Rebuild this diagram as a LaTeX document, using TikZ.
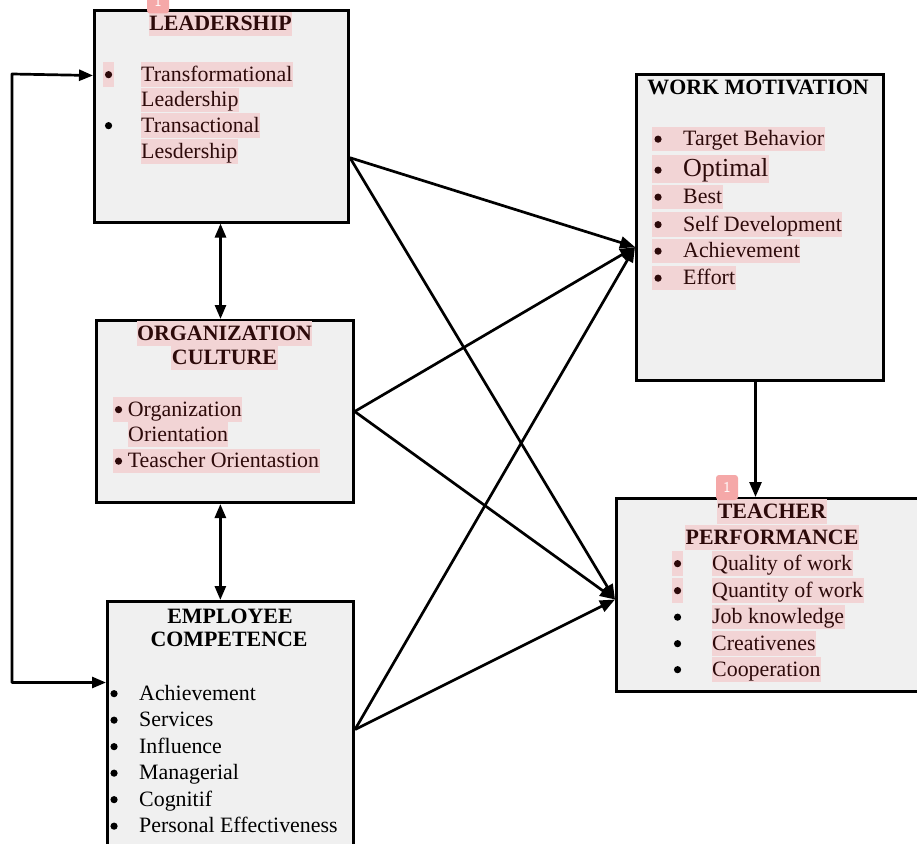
\documentclass[tikz,border=0pt]{standalone}
\usepackage{fontspec}
\setmainfont{Liberation Serif}
\usetikzlibrary{arrows.meta,calc}
\definecolor{boxfill}{RGB}{240,240,240}
\definecolor{hl}{RGB}{242,212,213}
\definecolor{hltext}{RGB}{45,10,10}
\definecolor{markfill}{RGB}{245,168,168}
\newcommand\bul{\makebox[7.7pt][c]{\raisebox{3pt}{\tikz[x=1cm,y=1cm]\fill (0,0) circle (3.6pt);}}}
\newcommand\wmitem[1]{\makebox[30.5pt][l]{\hspace{1.5pt}\bul}#1}
\tikzset{
  box/.style={draw=black, line width=3pt, fill=boxfill, anchor=north west, inner sep=0pt},
  txt/.style={anchor=west, inner xsep=0.5pt, inner ysep=0pt, text height=19pt, text depth=5.5pt, font=\fontsize{21.9}{25}\selectfont},
  hltxt/.style={txt, fill=hl, text=hltext},
  ttl/.style={txt, anchor=center, font=\fontsize{21.9}{25}\selectfont\bfseries},
  hlttl/.style={ttl, fill=hl, text=hltext},
  conn/.style={line width=2.7pt, -{Triangle[length=15pt,width=12pt]}},
  dconn/.style={line width=2.7pt, line join=round, {Triangle[length=14pt,width=11pt]}-{Triangle[length=14pt,width=11pt]}},
  marker/.style={fill=markfill, rounded corners=3pt, minimum width=22pt, minimum height=25pt, inner sep=0pt, text=white, font=\fontsize{15}{15}\selectfont\sffamily}
}
\begin{document}
\begin{tikzpicture}[x=1pt,y=-1pt]
\useasboundingbox (0,0) rectangle (917,843);
\fill[white] (0,0) rectangle (917,843);
% boxes
\node[box, minimum width=254pt, minimum height=211.5pt] (lead) at (93,9) {};
\node[box, minimum width=256.7pt, minimum height=182pt] (org) at (95,319) {};
\node[box, minimum width=246pt, minimum height=260pt] (ec) at (106,600) {};
\node[box, minimum width=247pt, minimum height=306pt] (wm) at (635,73) {};
\node[box, minimum width=315pt, minimum height=193pt] (tp) at (615,497) {};
% leadership
\node[hlttl] (lt) at (220.5,24) {LEADERSHIP};
\node[hltxt, inner xsep=1.5pt] (lb1) at (103,74.5) {\bul};
\node[hltxt] (l1) at (140.5,74.5) {Transformational};
\node[hltxt] (l2) at (140.5,100) {Leadership};
\node[txt, inner xsep=1.5pt] (lb2) at (103,125.5) {\bul};
\node[hltxt] (l3) at (140.5,125.5) {Transactional};
\node[hltxt] (l4) at (140.5,151.5) {Lesdership};
% organization culture
\node[hlttl] (ot1) at (224.5,333.5) {ORGANIZATION};
\node[hlttl] (ot2) at (224.5,358) {CULTURE};
\node[hltxt] (o1) at (113,409.5) {\hspace{1pt}\bul\ Organization};
\node[hltxt] (o2) at (127.5,434.5) {Orientation};
\node[hltxt] (o3) at (113,461) {\hspace{1pt}\bul\ Teascher Orientastion};
% employee competence
\node[ttl] (et1) at (230,617) {EMPLOYEE};
\node[ttl] (et2) at (229,640) {COMPETENCE};
\foreach \t [count=\i] in {Achievement, Services, Influence, Managerial, Cognitif, Personal Effectiveness}{
  \node[txt, inner xsep=1.5pt] (eb\i) at (108.5,667+26.5*\i) {\bul};
  \node[txt] (e\i) at (138.5,667+26.5*\i) {\t};
}
% work motivation
\node[ttl] (wt) at (758,88) {WORK MOTIVATION};
\node[hltxt] (w1) at (652,139) {\wmitem{Target Behavior}};
\node[hltxt, font=\fontsize{26}{30}\selectfont, text height=22pt, text depth=6.5pt] (w2) at (652,169) {\wmitem{Optimal}};
\node[hltxt] (w3) at (652,197) {\wmitem{Best}};
\node[hltxt] (w4) at (652,224.5) {\wmitem{Self Development}};
\node[hltxt] (w5) at (652,251) {\wmitem{Achievement}};
\node[hltxt] (w6) at (652,278) {\wmitem{Effort}};
% teacher performance
\node[hlttl] (tt1) at (772,511.5) {TEACHER};
\node[hlttl] (tt2) at (772,537.5) {PERFORMANCE};
\node[hltxt, inner xsep=1.5pt] (tb1) at (672,563.5) {\bul};
\node[hltxt, inner xsep=1.5pt] (tb2) at (672,590.5) {\bul};
\node[txt, inner xsep=1.5pt] (tb3) at (672,617) {\bul};
\node[txt, inner xsep=1.5pt] (tb4) at (672,643.5) {\bul};
\node[txt, inner xsep=1.5pt] (tb5) at (672,669.5) {\bul};
\node[hltxt] (t1) at (711.5,563.5) {Quality of work};
\node[hltxt] (t2) at (711.5,590.5) {Quantity of work};
\node[hltxt] (t3) at (711.5,617) {Job knowledge};
\node[hltxt] (t4) at (711.5,643.5) {Creativenes};
\node[hltxt] (t5) at (711.5,669.5) {Cooperation};
% connection points
\coordinate (leadR) at ([yshift=-41.5pt]lead.east);
\coordinate (wmL) at ([yshift=-19.5pt]wm.west);
\coordinate (tpL) at ([yshift=-4.5pt]tp.west);
\coordinate (ecR) at ([yshift=2pt]ec.east);
\coordinate (wmB) at ([xshift=-4.5pt]wm.south);
\coordinate (lp) at (12,74);
% connectors
\draw[conn] (leadR) -- (wmL);
\draw[conn] (leadR) -- (tpL);
\draw[conn] (org.east) -- (wmL);
\draw[conn] (org.east) -- (tpL);
\draw[conn] (ecR) -- (wmL);
\draw[conn] (ecR) -- (tpL);
\draw[conn] (wmB) -- (wmB |- tp.north);
\draw[dconn] ([xshift=-1pt]lead.south) -- ([xshift=-1pt]lead.south |- org.north);
\draw[dconn] ([xshift=-4.5pt]org.south) -- ([xshift=-4.5pt]org.south |- ec.north);
\draw[dconn] ([yshift=49pt]ec.west) -| (lp) -- ([yshift=40.75pt]lead.west);
% markers
\node[marker] (m1) at (158,1) {1};
\node[marker] (m2) at (727,487.5) {1};
\end{tikzpicture}
\end{document}
